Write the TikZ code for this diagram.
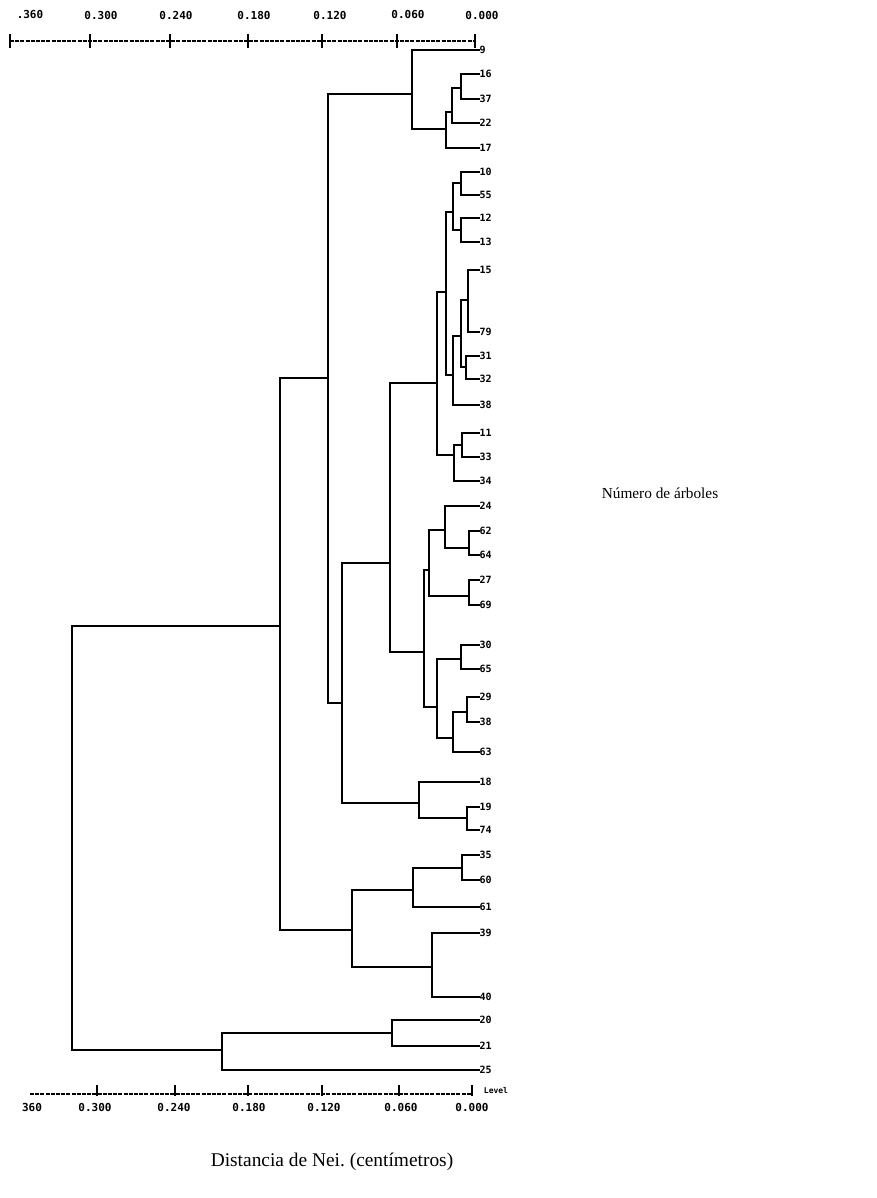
\documentclass[tikz,border=0pt]{standalone}
\usepackage{fontspec}
\setmainfont{Liberation Serif}
\newfontfamily\dotfont{DejaVu Sans Mono}
\begin{document}
\frenchspacing
\begin{tikzpicture}[x=1pt,y=-1pt,
  branch/.style={line width=2.6pt, line cap=rect},
  leaf/.style={font=\dotfont\bfseries\fontsize{10}{10}\selectfont, anchor=west,
    inner sep=0.5pt, text height=7pt, text depth=0pt},
  ticklabel/.style={font=\dotfont\bfseries\fontsize{11}{12}\selectfont, inner sep=0pt},
  axisline/.style={line width=1.4pt, dash pattern=on 4pt off 1.2pt},
  axistick/.style={line width=2pt},
  caption/.style={inner sep=0pt}]

\useasboundingbox (0,0) rectangle (877,1198);

% leaf labels (id / printed text / row)
\foreach \id/\t/\y in {9/9/50,16/16/74,37/37/99,22/22/123,17/17/148,
    10/10/172,55/55/195,12/12/218,13/13/242,15/15/270,79/79/332,
    31/31/356,32/32/379,38/38/405,11/11/433,33/33/457,34/34/481,
    24/24/506,62/62/531,64/64/555,27/27/580,69/69/605,
    30/30/645,65/65/669,29/29/697,38b/38/722,63/63/752,
    18/18/782,19/19/807,74/74/830,
    35/35/855,60/60/880,61/61/907,39/39/933,40/40/997,
    20/20/1020,21/21/1046,25/25/1070}
  \node[leaf] (l\id) at (479,\y) {\t};

% internal nodes
\coordinate (n1) at (461,88);
\coordinate (n2) at (452,112);
\coordinate (n3) at (446,129);
\coordinate (n4) at (412,94);
\coordinate (b1) at (461,183);
\coordinate (b2) at (461,230);
\coordinate (b3) at (453,212);
\coordinate (b4) at (468,300);
\coordinate (b5) at (466,367);
\coordinate (b6) at (461,336);
\coordinate (b7) at (453,375);
\coordinate (b8) at (446,292);
\coordinate (b9) at (462,445);
\coordinate (b10) at (454,455);
\coordinate (b11) at (437,383);
\coordinate (c1) at (469,548);
\coordinate (c2) at (445,530);
\coordinate (c3) at (469,596);
\coordinate (c4) at (429,570);
\coordinate (c5) at (461,659);
\coordinate (c6) at (467,712);
\coordinate (c7) at (453,738);
\coordinate (c8) at (437,707);
\coordinate (c9) at (424,652);
\coordinate (c10) at (390,563);
\coordinate (d1) at (467,818);
\coordinate (d2) at (419,803);
\coordinate (c11) at (342,703);
\coordinate (t1) at (328,378);
\coordinate (e1) at (462,868);
\coordinate (e2) at (413,890);
\coordinate (e3) at (432,967);
\coordinate (e4) at (352,930);
\coordinate (t2) at (280,626);
\coordinate (f1) at (392,1033);
\coordinate (f2) at (222,1050);
\coordinate (root) at (72,838);

% branches: child -| parent
\foreach \c/\p in {l16.west/n1,l37.west/n1,n1/n2,l22.west/n2,n2/n3,l17.west/n3,
    l9.west/n4,n3/n4,
    l10.west/b1,l55.west/b1,l12.west/b2,l13.west/b2,b1/b3,b2/b3,
    l15.west/b4,l79.west/b4,l31.west/b5,l32.west/b5,b4/b6,b5/b6,
    b6/b7,l38.west/b7,b3/b8,b7/b8,l11.west/b9,l33.west/b9,b9/b10,l34.west/b10,
    b8/b11,b10/b11,
    l62.west/c1,l64.west/c1,l24.west/c2,c1/c2,l27.west/c3,l69.west/c3,c2/c4,c3/c4,
    l30.west/c5,l65.west/c5,l29.west/c6,l38b.west/c6,c6/c7,l63.west/c7,
    c5/c8,c7/c8,c4/c9,c8/c9,b11/c10,c9/c10,
    l19.west/d1,l74.west/d1,l18.west/d2,d1/d2,c10/c11,d2/c11,n4/t1,c11/t1,
    l35.west/e1,l60.west/e1,e1/e2,l61.west/e2,l39.west/e3,l40.west/e3,e2/e4,e3/e4,
    t1/t2,e4/t2,l20.west/f1,l21.west/f1,f1/f2,l25.west/f2,t2/root,f2/root}
  \draw[branch] (\c) -| (\p);

% top scale
\draw[axisline] (10,41) -- (475,41);
\foreach \x in {10,90,170,248,322,397,475}
  \draw[axistick] (\x,34) -- (\x,48);
\foreach \x/\t in {30/.360,101/0.300,176/0.240,254/0.180,330/0.120,408/0.060,482/0.000}
  \node[ticklabel] at (\x,15) {\t};

% bottom scale
\draw[axisline] (30,1094) -- (472,1094);
\foreach \x in {97,175,248,322,399,472}
  \draw[axistick] (\x,1085) -- (\x,1096);
\foreach \x/\t in {32/360,95/0.300,174/0.240,249/0.180,324/0.120,401/0.060,472/0.000}
  \node[ticklabel] at (\x,1107) {\t};
\node[font=\dotfont\bfseries\fontsize{8}{8}\selectfont, inner sep=0pt] at (496,1091) {Level};

% captions
\node[caption, font=\fontsize{15.3}{18}\selectfont] at (660,493) {Número de árboles};
\node[caption, font=\fontsize{19.4}{22}\selectfont] at (332,1162) {Distancia de Nei. (centímetros)};
\end{tikzpicture}
\end{document}
